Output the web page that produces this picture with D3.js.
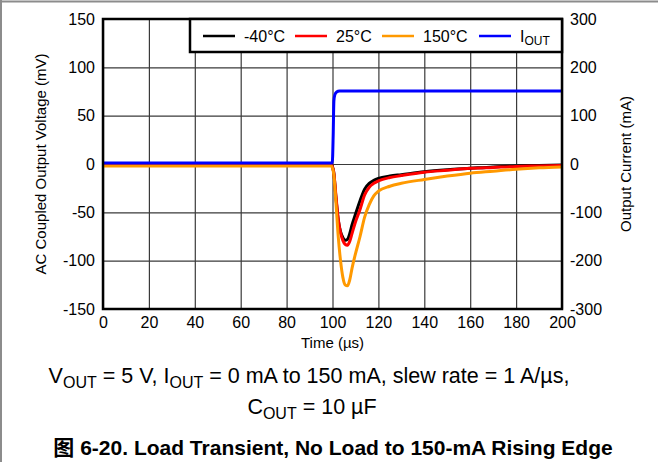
<!DOCTYPE html>
<html lang="en">
<head>
    <meta charset="UTF-8">
    <title>Load Transient, No Load to 150-mA Rising Edge</title>
    <style>
        html, body { margin: 0; padding: 0; background: #fff; }
        svg { display: block; font-family: "Liberation Sans", Arial, "Noto Sans CJK SC", sans-serif; }
    </style>
    <script src="https://cdnjs.cloudflare.com/ajax/libs/d3/7.8.5/d3.min.js"></script>
</head>
<body>
    <div id="chart"></div>

    <script>
        // time base (µs) shared by the three voltage traces
        const timeUs = [0, 20, 40, 60, 80, 99.5, 100.5, 101.5, 102.5, 103.5, 104.5, 105.5, 106.5,
            107.5, 108.5, 110, 112, 114, 116, 118, 120, 125, 130, 140, 150, 160, 170, 180, 190, 200];

        // AC coupled output voltage (mV)
        const vMinus40 = [-1, -1, -1, -1, -1, -1, -8, -35, -58, -70, -76, -79, -78,
            -72, -63, -52, -38, -26, -20, -17, -15, -12.5, -11, -8, -6, -4.5, -3, -2, -1.5, -1];
        const v25 = [-1, -1, -1, -1, -1, -1, -8, -33, -57, -71, -79, -83, -84,
            -80, -72, -60, -47, -32, -24, -20, -17.5, -14, -12, -8.5, -6.5, -4.5, -3.5, -2.5, -2, -1.5];
        const v150 = [-2, -2, -2, -2, -2, -2, -10, -40, -75, -100, -117, -125, -126,
            -120, -108, -93, -75, -55, -42, -33, -28, -23, -20, -16, -12.5, -9.5, -7.5, -5.5, -4, -3];

        // output current step (mA)
        const iTimeUs = [0, 50, 99.9, 100.3, 100.6, 101, 101.8, 103, 150, 200];
        const iOut = [2, 2, 2, 60, 130, 143, 149, 151, 151, 151];

        const timeTicks = [0, 20, 40, 60, 80, 100, 120, 140, 160, 180, 200];
        const voltTicks = [-150, -100, -50, 0, 50, 100, 150];
        const currTicks = [-300, -200, -100, 0, 100, 200, 300];

        const seriesNames = ['-40°C', '25°C', '150°C'];
        const seriesColors = ['#000000', '#ff0000', '#ff9900'];
        const currColor = '#0000ff';

        const width = 664;
        const height = 462;
        const plot = {left: 103, right: 562, top: 19, bottom: 309};

        const svg = d3.select('#chart')
            .append('svg')
            .attr('width', width)
            .attr('height', height);

        // grey frame around the figure (top and left only)
        svg.append('line').attr('x1', 0).attr('x2', 658).attr('y1', 1.5).attr('y2', 1.5)
            .attr('stroke', '#8c8c8c').attr('stroke-width', 2);
        svg.append('line').attr('x1', 1).attr('x2', 1).attr('y1', 0).attr('y2', height)
            .attr('stroke', '#8c8c8c').attr('stroke-width', 2);

        const x = d3.scaleLinear().domain([0, 200]).range([plot.left, plot.right]);
        const yV = d3.scaleLinear().domain([-150, 150]).range([plot.bottom, plot.top]);
        const yI = d3.scaleLinear().domain([-300, 300]).range([plot.bottom, plot.top]);

        // grid
        svg.append('g')
            .attr('class', 'grid')
            .attr('transform', `translate(0,${plot.bottom})`)
            .call(d3.axisBottom(x).tickValues(timeTicks).tickSize(-(plot.bottom - plot.top)).tickFormat(''))
            .call(g => g.select('.domain').remove());
        svg.append('g')
            .attr('class', 'grid')
            .attr('transform', `translate(${plot.left},0)`)
            .call(d3.axisLeft(yV).tickValues(voltTicks).tickSize(-(plot.right - plot.left)).tickFormat(''))
            .call(g => g.select('.domain').remove());
        svg.selectAll('.grid line').attr('stroke', '#3a3a3a').attr('stroke-width', 1.2);

        // traces
        const vLine = vals => d3.line()
            .x((d, i) => x(timeUs[i]))
            .y(d => yV(d))
            .curve(d3.curveMonotoneX)(vals);

        [vMinus40, v25, v150].forEach((vals, k) => {
            svg.append('path')
                .attr('d', vLine(vals))
                .attr('fill', 'none')
                .attr('stroke', seriesColors[k])
                .attr('stroke-width', 3)
                .attr('stroke-linejoin', 'round');
        });

        svg.append('path')
            .attr('d', d3.line()
                .x((d, i) => x(iTimeUs[i]))
                .y(d => yI(d))
                .curve(d3.curveMonotoneX)(iOut))
            .attr('fill', 'none')
            .attr('stroke', currColor)
            .attr('stroke-width', 3);

        // plot frame
        svg.append('rect')
            .attr('x', plot.left).attr('y', plot.top)
            .attr('width', plot.right - plot.left).attr('height', plot.bottom - plot.top)
            .attr('fill', 'none').attr('stroke', '#000').attr('stroke-width', 2.5);

        // axes labels (plain hyphen for negatives, as in the figure)
        const plain = d => String(d);
        const styleAxis = g => {
            g.select('.domain').remove();
            g.selectAll('text').attr('font-size', 16).attr('fill', '#000')
                .attr('font-family', '"Liberation Sans", Arial, sans-serif');
        };
        svg.append('g')
            .attr('transform', `translate(${plot.left},0)`)
            .call(d3.axisLeft(yV).tickValues(voltTicks).tickFormat(plain).tickSize(0).tickPadding(8))
            .call(styleAxis);
        svg.append('g')
            .attr('transform', `translate(${plot.right},0)`)
            .call(d3.axisRight(yI).tickValues(currTicks).tickFormat(plain).tickSize(0).tickPadding(8))
            .call(styleAxis);
        svg.append('g')
            .attr('transform', `translate(0,${plot.bottom})`)
            .call(d3.axisBottom(x).tickValues(timeTicks).tickFormat(plain).tickSize(0).tickPadding(8))
            .call(styleAxis);

        svg.append('text')
            .attr('transform', `translate(40,${(plot.top + plot.bottom) / 2}) rotate(-90)`)
            .attr('text-anchor', 'middle').attr('dominant-baseline', 'central')
            .attr('font-size', 15)
            .text('AC Coupled Output Voltage (mV)');
        svg.append('text')
            .attr('transform', `translate(625,${(plot.top + plot.bottom) / 2}) rotate(-90)`)
            .attr('text-anchor', 'middle').attr('dominant-baseline', 'central')
            .attr('font-size', 15)
            .text('Output Current (mA)');
        svg.append('text')
            .attr('x', (plot.left + plot.right) / 2).attr('y', 348)
            .attr('text-anchor', 'middle')
            .attr('font-size', 15)
            .text('Time (µs)');

        // legend
        const legend = svg.append('g');
        legend.append('rect')
            .attr('x', 190).attr('y', plot.top)
            .attr('width', plot.right - 190).attr('height', 33)
            .attr('fill', '#fff').attr('stroke', '#000').attr('stroke-width', 2.5);
        const legX = [203, 295, 382, 479];
        const legNames = seriesNames.concat(['I']);
        const legColors = seriesColors.concat([currColor]);
        legNames.forEach((name, i) => {
            legend.append('line')
                .attr('x1', legX[i]).attr('x2', legX[i] + 32)
                .attr('y1', 36).attr('y2', 36)
                .attr('stroke', legColors[i]).attr('stroke-width', 2.5);
            const t = legend.append('text')
                .attr('x', legX[i] + 41).attr('y', 42)
                .attr('font-size', 16)
                .text(name);
            if (i === 3) {
                t.append('tspan').attr('font-size', 12).attr('dy', 3).text('OUT');
            }
        });

        // conditions
        const cond1 = svg.append('text')
            .attr('x', 309).attr('y', 383)
            .attr('text-anchor', 'middle')
            .attr('font-size', 21.5);
        cond1.append('tspan').text('V');
        cond1.append('tspan').attr('font-size', 16).attr('dy', 5).text('OUT');
        cond1.append('tspan').attr('dy', -5).text(' = 5 V, I');
        cond1.append('tspan').attr('font-size', 16).attr('dy', 5).text('OUT');
        cond1.append('tspan').attr('dy', -5).text(' = 0 mA to 150 mA, slew rate = 1 A/µs,');

        const cond2 = svg.append('text')
            .attr('x', 312).attr('y', 414)
            .attr('text-anchor', 'middle')
            .attr('font-size', 21.5);
        cond2.append('tspan').text('C');
        cond2.append('tspan').attr('font-size', 16).attr('dy', 5).text('OUT');
        cond2.append('tspan').attr('dy', -5).text(' = 10 µF');

        svg.append('text')
            .attr('x', 333).attr('y', 455)
            .attr('text-anchor', 'middle')
            .attr('font-size', 21)
            .attr('font-weight', 'bold')
            .text('图 6-20. Load Transient, No Load to 150-mA Rising Edge');
    </script>
</body>
</html>
